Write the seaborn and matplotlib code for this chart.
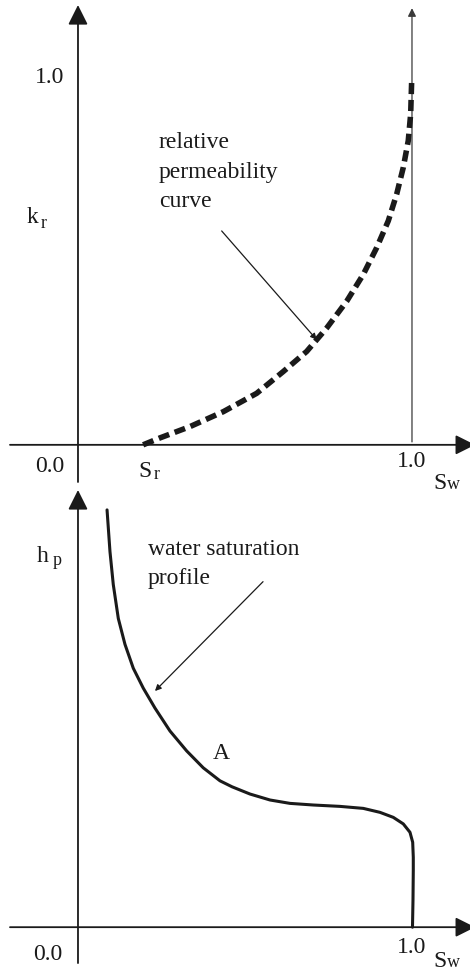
import matplotlib
matplotlib.use("Agg")
import matplotlib.pyplot as plt
import pandas as pd
import seaborn as sns

# Relative permeability k_r against water saturation S_w (starts at S_r)
kr_sw = [0.195, 0.2455, 0.3353, 0.4350, 0.5350, 0.6147, 0.6847, 0.7446,
         0.8045, 0.8542, 0.8943, 0.9290, 0.9542, 0.9740, 0.9889, 0.9961,
         0.9991]
kr_val = [0.000, 0.0190, 0.0500, 0.0909, 0.1413, 0.2011, 0.2562, 0.3204,
          0.3939, 0.4675, 0.5408, 0.6143, 0.6879, 0.7612, 0.8347, 0.9083,
          1.000]

# Water saturation profile: height h_p against S_w
hp_sw = [0.087, 0.0958, 0.1057, 0.1207, 0.1407, 0.1656, 0.1955, 0.2305,
         0.2754, 0.3254, 0.3751, 0.4251, 0.4611, 0.5150, 0.5749, 0.6347,
         0.7045, 0.7844, 0.8542, 0.9042, 0.9440, 0.9740, 0.9940, 1.0021,
         1.0039, 1.0039, 1.0030, 1.0015]
hp_val = [1.000, 0.8998, 0.8210, 0.7399, 0.6778, 0.6205, 0.5728, 0.5251,
          0.4702, 0.4224, 0.3819, 0.3508, 0.3365, 0.3191, 0.3048, 0.2967,
          0.2928, 0.2895, 0.2847, 0.2752, 0.2632, 0.2475, 0.2274, 0.2036,
          0.1678, 0.1360, 0.0644, 0.000]

tick_labels = ["0.0", "1.0"]
S_R = kr_sw[0]

sns.set_theme(style="white")
plt.rcParams["font.family"] = ["Liberation Serif", "DejaVu Serif"]

INK = "#1a1a1a"
MAIN = 17
SUB = 13

fig = plt.figure(figsize=(4.70, 9.72), dpi=100)
ax_top = fig.add_axes([0, 485 / 972, 1, 487 / 972])
ax_bot = fig.add_axes([0, 0, 1, 485 / 972])
ax_bot.set_zorder(0)
ax_top.set_zorder(1)
for ax in (ax_top, ax_bot):
    ax.set_facecolor("none")
    ax.set_xlim(-0.2335, 1.1737)
    ax.set_axis_off()
ax_top.set_ylim(-0.1157, 1.2204)
ax_bot.set_ylim(-0.1074, 1.0549)


def arrow(ax, start, tip, lw=1.3, scale=30, color=INK, zorder=2,
          head="-|>,head_length=0.4,head_width=0.2"):
    ax.annotate("", xy=tip, xytext=start, annotation_clip=False,
                arrowprops=dict(arrowstyle=head, mutation_scale=scale,
                                lw=lw, color=color, shrinkA=0, shrinkB=0),
                zorder=zorder)


def label(ax, x, y, s, size=MAIN):
    ax.text(x, y, s, fontsize=size, color=INK, ha="left", va="baseline",
            clip_on=False)


# ---- top panel: relative permeability ----
arrow(ax_top, (0, -0.102), (0, 1.2066))
arrow(ax_top, (-0.2036, 0), (1.189, 0))
arrow(ax_top, (1.0, 0.008), (1.0, 1.198), lw=0.9, scale=12, color="#3a3a3a")
arrow(ax_top, (0.4302, 0.5868), (0.7147, 0.2884), lw=0.9, scale=9, zorder=1)

df_kr = pd.DataFrame({"Sw": kr_sw, "kr": kr_val})
sns.lineplot(data=df_kr, x="Sw", y="kr", ax=ax_top, sort=False,
             estimator=None, color=INK, lw=4.0, ls=(0, (2.0, 1.05)),
             dash_capstyle="butt", zorder=3)

label(ax_top, -0.129, 0.992, tick_labels[1])
label(ax_top, -0.153, 0.609, "k")
label(ax_top, -0.111, 0.595, "r", SUB)
label(ax_top, -0.129, -0.074, tick_labels[0])
label(ax_top, S_R - 0.015, -0.088, "S")
label(ax_top, S_R + 0.032, -0.094, "r", SUB)
label(ax_top, 0.955, -0.0606, tick_labels[1])
label(ax_top, 1.063, -0.121, "S")
label(ax_top, 1.106, -0.121, "w", SUB)
for text, yb in zip(["relative", "permeability", "curve"],
                    [0.8154, 0.7328, 0.653]):
    label(ax_top, 0.2425, yb, text)

# ---- bottom panel: water saturation profile ----
arrow(ax_bot, (0, -0.086), (0, 1.0477))
arrow(ax_bot, (-0.2036, 0), (1.189, 0))
arrow(ax_bot, (0.554, 0.828), (0.2305, 0.566), lw=0.9, scale=9)

df_hp = pd.DataFrame({"Sw": hp_sw, "hp": hp_val})
sns.lineplot(data=df_hp, x="Sw", y="hp", ax=ax_bot, sort=False,
             estimator=None, color=INK, lw=2.2, zorder=3,
             solid_joinstyle="round")

label(ax_bot, -0.1228, 0.876, "h")
label(ax_bot, -0.0749, 0.869, "p", SUB)
label(ax_bot, 0.2096, 0.8926, "water saturation")
label(ax_bot, 0.2096, 0.8234, "profile")
label(ax_bot, 0.404, 0.4033, "A")
label(ax_bot, -0.1347, -0.0788, tick_labels[0])
label(ax_bot, 0.955, -0.062, tick_labels[1])
label(ax_bot, 1.063, -0.0955, "S")
label(ax_bot, 1.105, -0.0955, "w", SUB)

fig.savefig("out.png", dpi=100)
